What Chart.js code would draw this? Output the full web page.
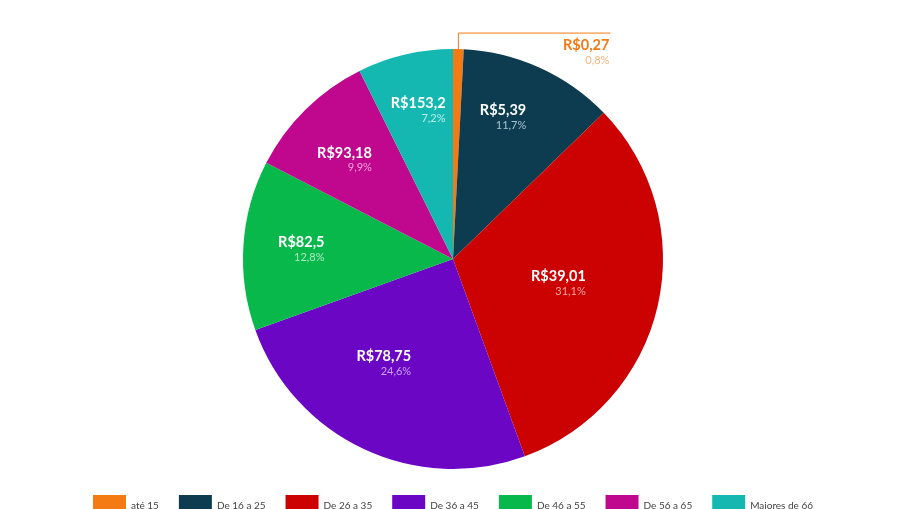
<!DOCTYPE html>
<html>
<head>
<meta charset="utf-8">
<script src="https://cdn.jsdelivr.net/npm/chart.js@4.4.0/dist/chart.umd.min.js"></script>
<style>
  html, body { margin: 0; padding: 0; background: #fff; overflow: hidden; }
  #wrap { width: 906px; height: 527px; }
</style>
</head>
<body>
<div id="wrap"><canvas id="pie"></canvas></div>
<script>
const faixas = ["até 15", "De 16 a 25", "De 26 a 35", "De 36 a 45", "De 46 a 55", "De 56 a 65", "Maiores de 66"];
const percentuais = [0.8, 11.7, 31.1, 24.6, 12.8, 9.9, 7.2];
const valores = ["R$0,27", "R$5,39", "R$39,01", "R$78,75", "R$82,5", "R$93,18", "R$153,2"];
const rotulosPct = ["0,8%", "11,7%", "31,1%", "24,6%", "12,8%", "9,9%", "7,2%"];

const cores = ["#f47a14", "#0d3c50", "#cc0202", "#6a06c4", "#08b84b", "#c0088f", "#15b8b0"];
const coresPct = ["#f6b47c", "#a9c2cf", "#f6a3a3", "#c9a1f0", "#a8ecc0", "#f0a2dc", "#b5efea"];
// label placement: fraction of radius and angle nudge (degrees)
const raioRotulo = [1, 0.717, 0.515, 0.595, 0.724, 0.70, 0.726];
const desvioAngulo = [0, -5, 0, 8.5, 0, -3, 0];

const rotulos = {
  id: "rotulos",
  afterDatasetsDraw(chart) {
    const ctx = chart.ctx;
    const arcs = chart.getDatasetMeta(0).data;
    ctx.save();
    arcs.forEach((arc, i) => {
      const p = arc.getProps(["x", "y", "startAngle", "endAngle", "outerRadius"], true);
      const mid = (p.startAngle + p.endAngle) / 2 + desvioAngulo[i] * Math.PI / 180;
      ctx.font = "bold 14.5px Lato";
      const w = ctx.measureText(valores[i]).width;
      let right, yv, yp;
      if (i === 0) {
        // tiny slice: leader line out to the right
        const ex = p.x + Math.cos(mid) * p.outerRadius;
        const ey = p.y + Math.sin(mid) * p.outerRadius;
        const topY = ey - 16;
        right = ex + 152;
        ctx.strokeStyle = cores[0];
        ctx.lineWidth = 1;
        ctx.beginPath();
        ctx.moveTo(ex, ey);
        ctx.lineTo(ex, topY);
        ctx.lineTo(right, topY);
        ctx.stroke();
        right -= 1;
        yv = topY + 12;
        yp = topY + 27;
        ctx.fillStyle = cores[0];
      } else {
        const r = p.outerRadius * raioRotulo[i];
        const cx = p.x + Math.cos(mid) * r;
        const cy = p.y + Math.sin(mid) * r;
        right = cx + w / 2;
        yv = cy - 7;
        yp = cy + 8;
        ctx.fillStyle = "#ffffff";
      }
      ctx.textAlign = "right";
      ctx.textBaseline = "middle";
      ctx.fillText(valores[i], right, yv);
      ctx.font = "11px Lato";
      ctx.fillStyle = coresPct[i];
      ctx.fillText(rotulosPct[i], right, yp);
    });
    ctx.restore();
  }
};

new Chart(document.getElementById("pie"), {
  type: "pie",
  data: {
    labels: faixas,
    datasets: [{
      data: percentuais,
      backgroundColor: cores,
      borderWidth: 0,
      radius: 210
    }]
  },
  options: {
    responsive: true,
    maintainAspectRatio: false,
    animation: false,
    layout: { padding: { top: 43 } },
    plugins: {
      tooltip: { enabled: false },
      legend: {
        position: "bottom",
        labels: {
          boxWidth: 33,
          boxHeight: 22,
          padding: 20,
          color: "#444",
          font: { family: "Lato", size: 10 }
        }
      }
    }
  },
  plugins: [rotulos]
});
</script>
</body>
</html>
